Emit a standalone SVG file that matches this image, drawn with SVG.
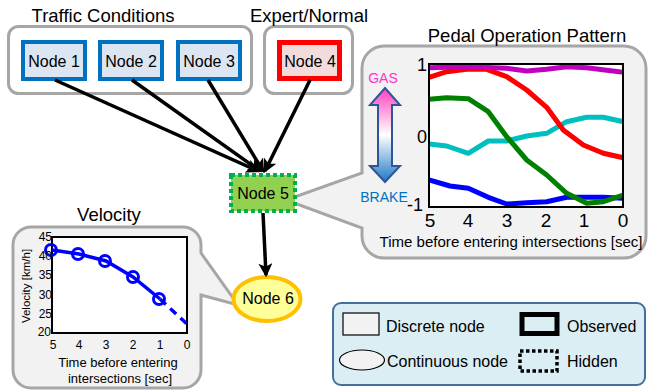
<svg xmlns="http://www.w3.org/2000/svg" width="652" height="392" viewBox="0 0 652 392">
<defs>
<style>
text{font-family:"Liberation Sans",Arial,sans-serif;fill:#000}
.title{font-size:18.5px;text-anchor:middle}
.nlabel{font-size:16px;text-anchor:middle}
.group{fill:#ffffff;stroke:#a6a6a6;stroke-width:3}
.callout{fill:#f2f2f2;stroke:#a6a6a6;stroke-width:3}
.traffic{fill:#dce6f2;stroke:#0070c0;stroke-width:4}
.edge{stroke:#000;stroke-width:3.5;fill:none;marker-end:url(#ah)}
.frame{fill:#fff;stroke:#000;stroke-width:2}
.curve{fill:none;stroke-width:5;stroke-linejoin:round;stroke-linecap:butt}
.tick{font-size:19px;text-anchor:middle}
.ytick{font-size:18px;text-anchor:end}
.vtick{font-size:12px;text-anchor:middle}
.leg{font-size:16px}
</style>
<marker id="ah" markerUnits="userSpaceOnUse" markerWidth="14" markerHeight="14" viewBox="0 0 12 12" refX="10" refY="6" orient="auto">
<path d="M0,0 L12,6 L0,12 L3,6 z" fill="#000"/>
</marker>
<linearGradient id="gb" x1="0" y1="88" x2="0" y2="182" gradientUnits="userSpaceOnUse">
<stop offset="0" stop-color="#ff3fbf"/>
<stop offset="0.5" stop-color="#ffffff"/>
<stop offset="1" stop-color="#1f78c8"/>
</linearGradient>
<clipPath id="pc"><rect x="429" y="64" width="194" height="143"/></clipPath>
</defs>

<!-- group boxes -->
<g id="traffic-conditions">
<rect class="group" x="8.5" y="26.5" width="243" height="67" rx="10"/>
<text class="title" x="103" y="22">Traffic Conditions</text>
</g>
<g id="expert-normal">
<rect class="group" x="264.5" y="26.5" width="88" height="67" rx="10"/>
<text class="title" x="309" y="22">Expert/Normal</text>
</g>

<!-- callouts -->
<g id="pedal-callout">
<path class="callout" d="M384,46 H624 A22,22 0 0 1 646,68 V236 A22,22 0 0 1 624,258 H384 A22,22 0 0 1 362,236 V228 L286,200 L362,173 V68 A22,22 0 0 1 384,46 Z"/>
<text class="title" x="527" y="42">Pedal Operation Pattern</text>
<path d="M385,88 L400,105 L392,105 L392,166 L400,166 L385,182 L370,166 L378,166 L378,105 L370,105 Z" fill="url(#gb)" stroke="#2f5597" stroke-width="2"/>
<text x="383" y="83" font-size="14" text-anchor="middle" style="fill:#ff33cc">GAS</text>
<text x="384" y="202" font-size="14" text-anchor="middle" style="fill:#0070c0">BRAKE</text>
<rect class="frame" x="429" y="64" width="194" height="143"/>
<g clip-path="url(#pc)">
<polyline class="curve" stroke="#0000ff" points="429,180 450,186 468.3,188.3 488.3,197.3 506.7,204 526.7,202.7 546.7,201.7 566.7,197.3 586.7,197.3 603.3,197.3 623.3,198.3"/>
<polyline class="curve" stroke="#00bfbf" points="429,144 446.7,146 468.3,153.3 488.3,141 506.7,141 526.7,136 546.7,133.3 566.7,121.7 586.7,117.3 603.3,117.3 623.3,121.7"/>
<polyline class="curve" stroke="#008000" points="429,99.3 446.7,97.7 468.3,98.7 488.3,111.7 506.7,136.7 526.7,160 546.7,175 566.7,193.3 586.7,203.3 603.3,201.7 623.3,195"/>
<polyline class="curve" stroke="#ff0000" points="429,77.3 446.7,71.7 466.7,69.3 486.7,69.3 506.7,76.7 526.7,90 546.7,107.3 563.3,130 583.3,145 603.3,153.3 623.3,157.7"/>
<polyline class="curve" stroke="#bf00bf" points="429,67.7 468.3,66.7 506.7,68.3 526.7,71 546.7,69.3 566.7,66.7 586.7,67.7 623.3,72.3"/>
</g>
<rect x="429" y="64" width="194" height="143" fill="none" stroke="#000" stroke-width="2"/>
<text class="ytick" x="427" y="71">1</text>
<text class="ytick" x="427" y="143">0</text>
<text class="ytick" x="423" y="211">-1</text>
<text class="tick" x="430" y="227">5</text>
<text class="tick" x="468" y="227">4</text>
<text class="tick" x="507" y="227">3</text>
<text class="tick" x="546" y="227">2</text>
<text class="tick" x="584" y="227">1</text>
<text class="tick" x="623" y="227">0</text>
<text x="511" y="247" font-size="14" text-anchor="middle" textLength="263" lengthAdjust="spacingAndGlyphs">Time before entering intersections [sec]</text>
</g>

<g id="velocity-callout">
<path class="callout" d="M31,227 H183 A18,18 0 0 1 201,245 V253 L238,305 L201,295 V370 A18,18 0 0 1 183,388 H31 A18,18 0 0 1 13,370 V245 A18,18 0 0 1 31,227 Z"/>
<text class="title" x="109" y="221">Velocity</text>
<rect class="frame" x="52" y="237" width="135" height="96"/>
<polyline fill="none" stroke="#0000ff" stroke-width="3.5" points="52,250 79,254 106,261 133,277 160,299"/>
<line x1="160" y1="299" x2="187" y2="324" stroke="#0000ff" stroke-width="3.5" stroke-dasharray="8 6"/>
<g fill="none" stroke="#0000ff" stroke-width="3">
<circle cx="51" cy="250" r="5.5"/>
<circle cx="78" cy="254" r="5.5"/>
<circle cx="105" cy="261" r="5.5"/>
<circle cx="133" cy="277" r="5.5"/>
<circle cx="159" cy="299" r="5.5"/>
</g>
<g font-size="12" text-anchor="end">
<text x="52" y="241">45</text>
<text x="52" y="260">40</text>
<text x="52" y="279">35</text>
<text x="52" y="299">30</text>
<text x="52" y="318">25</text>
<text x="51" y="336">20</text>
</g>
<text class="vtick" x="53" y="349">5</text>
<text class="vtick" x="79" y="349">4</text>
<text class="vtick" x="106" y="349">3</text>
<text class="vtick" x="133" y="349">2</text>
<text class="vtick" x="160" y="349">1</text>
<text class="vtick" x="187" y="349">0</text>
<text x="0" y="0" font-size="11.5" text-anchor="middle" transform="translate(30,286) rotate(-90)">Velocity [km/h]</text>
<text x="118" y="367" font-size="13" text-anchor="middle">Time before entering</text>
<text x="120" y="383" font-size="13" text-anchor="middle">intersections [sec]</text>
</g>

<!-- nodes -->
<g id="node1">
<rect class="traffic" x="23" y="42" width="62" height="37"/>
<text class="nlabel" x="54" y="67">Node 1</text>
</g>
<g id="node2">
<rect class="traffic" x="100" y="42" width="62" height="37"/>
<text class="nlabel" x="131" y="67">Node 2</text>
</g>
<g id="node3">
<rect class="traffic" x="178" y="42" width="62" height="37"/>
<text class="nlabel" x="209" y="67">Node 3</text>
</g>
<g id="node4">
<rect x="279.5" y="42.5" width="60" height="36" fill="#f2dcdb" stroke="#ff0000" stroke-width="5"/>
<text class="nlabel" x="310" y="67">Node 4</text>
</g>
<g id="node5">
<rect x="231" y="175" width="64" height="36" fill="#92d050" stroke="#00b050" stroke-width="4" stroke-dasharray="4 3"/>
<text class="nlabel" x="263" y="199">Node 5</text>
</g>
<g id="node6">
<ellipse cx="267" cy="299" rx="33.5" ry="22" fill="#ffff99" stroke="#ffc000" stroke-width="4"/>
<text class="nlabel" x="268" y="304">Node 6</text>
</g>

<!-- connectors -->
<g id="connectors">
<line class="edge" x1="55" y1="80" x2="258" y2="171"/>
<line class="edge" x1="132" y1="80" x2="260" y2="171"/>
<line class="edge" x1="208" y1="80" x2="263" y2="171"/>
<line class="edge" x1="310" y1="80" x2="265" y2="171"/>
<line class="edge" x1="263" y1="213" x2="266" y2="275"/>
</g>

<!-- legend -->
<g id="legend">
<rect x="333" y="303" width="312" height="82" rx="8" fill="#dbeef4" stroke="#41719c" stroke-width="2"/>
<rect x="343" y="313" width="36" height="22" fill="#f2f2f2" stroke="#000" stroke-width="1.2"/>
<text class="leg" x="386" y="332">Discrete node</text>
<rect x="522" y="314.5" width="35" height="19" fill="none" stroke="#000" stroke-width="5"/>
<text class="leg" x="567" y="332">Observed</text>
<ellipse cx="362" cy="360" rx="22.5" ry="10" fill="#f2f2f2" stroke="#000" stroke-width="1.2"/>
<text class="leg" x="387" y="367">Continuous node</text>
<rect x="520" y="351" width="37" height="20" fill="none" stroke="#000" stroke-width="3.5" stroke-dasharray="3.5 2.5"/>
<text class="leg" x="567" y="367">Hidden</text>
</g>
</svg>
